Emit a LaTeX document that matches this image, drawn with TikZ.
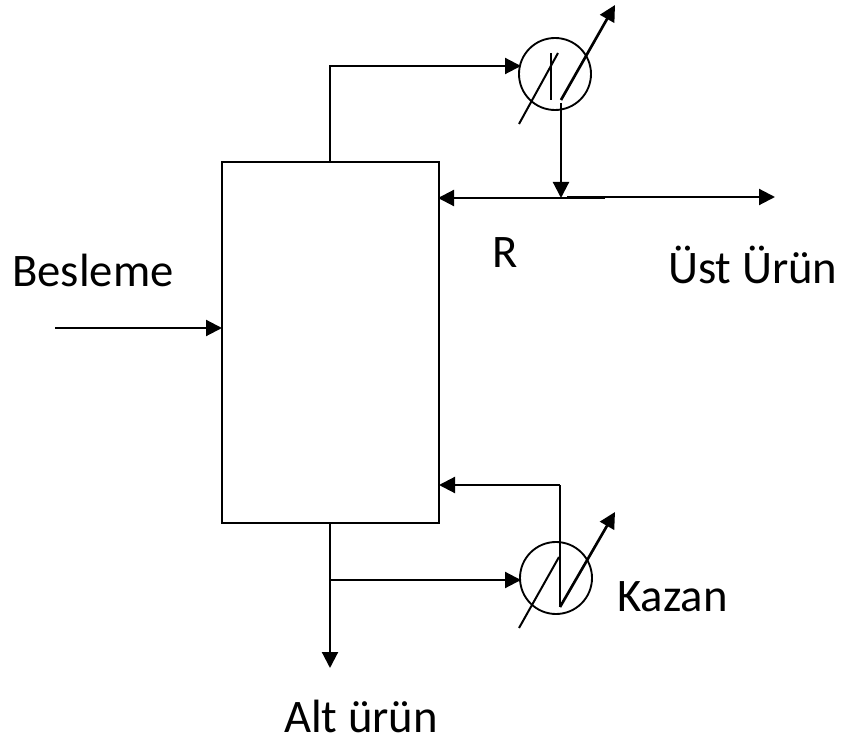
\documentclass[tikz,border=0pt]{standalone}
\usepackage{fontspec}
\setmainfont{Carlito}
\usetikzlibrary{arrows.meta}
\tikzset{
  column/.style={draw,line width=1.4pt,minimum width=162.75pt,minimum height=270.75pt,inner sep=0pt},
  hx/.style={draw,circle,line width=1.4pt,minimum size=54pt,inner sep=0pt},
  pipe/.style={line width=1.6pt,-{Triangle[length=12pt,width=12pt]}},
  plain/.style={line width=1.5pt},
  thick diag/.style={line width=2pt,-{Triangle[length=12pt,width=12pt]}},
  lbl/.style={inner sep=0pt,font=\fontsize{35}{40}\selectfont}
}
\begin{document}
\begin{tikzpicture}[x=0.75pt,y=-0.75pt]
\useasboundingbox (0,0) rectangle (843,741);
\node[column] (col) at (330.5,342.5) {};
\node[hx] (hxt) at (555,74) {};
\node[hx] (hxb) at (556,578) {};
\coordinate (feed) at (55,328);
\coordinate (colfeed) at (222,328);
\coordinate (top) at (330,162);
\coordinate (topc) at (330,66);
\coordinate (hxtin) at (521,66);
\coordinate (tA) at (519,124); \coordinate (tB) at (558,53);
\coordinate (tC) at (551,53); \coordinate (tD) at (551,100);
\coordinate (tE) at (561,100); \coordinate (tF) at (615,5);
\coordinate (tG) at (561,103); \coordinate (tH) at (561,198);
\coordinate (rS) at (605,198); \coordinate (rE) at (438,198);
\coordinate (pS) at (567,197); \coordinate (pE) at (775,197);
\coordinate (bot) at (330,523); \coordinate (botE) at (330,668);
\coordinate (bJ) at (330,580); \coordinate (hxbin) at (521,580);
\coordinate (bA) at (519,628); \coordinate (bB) at (559,557);
\coordinate (bC) at (560,607); \coordinate (bD) at (615,512);
\coordinate (bE) at (560,485); \coordinate (bF) at (439,485);
\draw[pipe] (feed) -- (colfeed);
\draw[pipe] (top) -- (topc) -- (hxtin);
\draw[plain] (tA) -- (tB);
\draw[plain] (tC) -- (tD);
\draw[thick diag] (tE) -- (tF);
\draw[pipe] (tG) -- (tH);
\draw[pipe] (rS) -- (rE);
\draw[pipe] (pS) -- (pE);
\draw[pipe] (bot) -- (botE);
\draw[pipe] (bJ) -- (hxbin);
\draw[plain] (bA) -- (bB);
\draw[thick diag] (bC) -- (bD);
\draw[plain] (bC) -- (bE);
\draw[pipe] (bE) -- (bF);
\node[lbl,anchor=base west] (besleme) at (12,287) {Besleme};
\node[lbl,anchor=base west] (r) at (492,268) {R};
\node[lbl,anchor=base west] (ust) at (668,284) {Üst Ürün};
\node[lbl,anchor=base west] (kazan) at (617,611) {Kazan};
\node[lbl,anchor=base west] (alt) at (284,732) {Alt ürün};
\end{tikzpicture}
\end{document}
